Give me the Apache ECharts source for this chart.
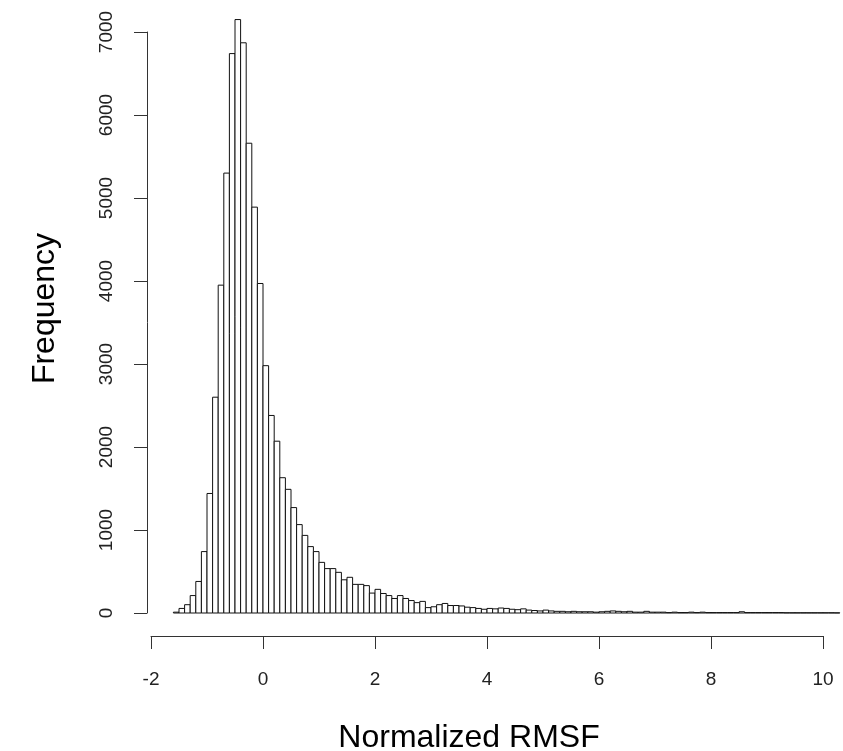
<!DOCTYPE html>
<html>
<head>
<meta charset="utf-8">
<script src="https://cdn.jsdelivr.net/npm/echarts@6/dist/echarts.min.js"></script>
<style>
html,body{margin:0;padding:0;background:#fff;}
#chart{width:843px;height:751px;}
</style>
</head>
<body>
<div id="chart"></div>
<script>
// Histogram of normalized RMSF, bins of width 0.1 starting at -1.6
const binStart = -1.6;
const binWidth = 0.1;
const counts = [
  10, 55, 100, 210, 380, 740, 1440, 2600, 3950, 5300,
  6740, 7150, 6870, 5660, 4890, 3970, 2980, 2380, 2070, 1630,
  1490, 1270, 1065, 935, 800, 740, 610, 535, 535, 490,
  400, 430, 345, 345, 330, 240, 285, 235, 210, 175,
  210, 175, 150, 125, 140, 65, 75, 100, 115, 90,
  90, 85, 70,
  65, 55, 45, 55, 50, 60, 55, 45, 40, 50,
  35, 30, 25, 35, 25, 20, 20, 15, 20, 15,
  15, 15, 10, 15, 20, 25, 20, 15, 20, 10,
  10, 20, 10, 10, 10, 5, 10, 5, 5, 10,
  5, 10, 5, 5, 5, 5, 5, 5, 15, 5,
  5, 5, 5, 5, 5, 5, 3, 3, 3, 3,
  3, 3, 3, 3, 3, 2
];
const xTicks = [-2, 0, 2, 4, 6, 8, 10];
const yTicks = [0, 1000, 2000, 3000, 4000, 5000, 6000, 7000];
const xTitle = 'Normalized RMSF';
const yTitle = 'Frequency';

const bins = counts.map((c, i) => [binStart + i * binWidth, binStart + (i + 1) * binWidth, c]);

const font = "'Liberation Sans', Arial, Helvetica, sans-serif";
const chart = echarts.init(document.getElementById('chart'), null, {renderer: 'canvas'});
chart.setOption({
  animation: false,
  backgroundColor: '#ffffff',
  grid: {left: 151, right: 20, top: 32, bottom: 138, containLabel: false, outerBoundsMode: 'none'},
  xAxis: {
    type: 'value',
    min: xTicks[0],
    max: xTicks[xTicks.length - 1],
    interval: 2,
    offset: 23,
    name: xTitle,
    nameLocation: 'middle',
    nameGap: 86,
    nameTextStyle: {fontFamily: font, fontSize: 32, color: '#000', padding: [0, 36, 0, 0]},
    axisLine: {show: true, onZero: false, lineStyle: {color: '#333', width: 1}},
    axisTick: {show: true, length: 13, lineStyle: {color: '#333', width: 1}},
    axisLabel: {fontFamily: font, fontSize: 19, color: '#222', margin: 34},
    splitLine: {show: false}
  },
  yAxis: {
    type: 'value',
    min: yTicks[0],
    max: yTicks[yTicks.length - 1],
    interval: 1000,
    offset: 4,
    name: yTitle,
    nameLocation: 'middle',
    nameGap: 86,
    nameRotate: 90,
    nameTextStyle: {fontFamily: font, fontSize: 32, color: '#000', padding: [0, 0, 0, 28]},
    axisLine: {show: true, onZero: false, lineStyle: {color: '#333', width: 1}},
    axisTick: {show: true, length: 13, lineStyle: {color: '#333', width: 1}},
    axisLabel: {fontFamily: font, fontSize: 19, color: '#222', margin: 31, rotate: 90,
      formatter: function (v) { return String(v); }},
    splitLine: {show: false}
  },
  series: [{
    type: 'custom',
    clip: false,
    data: bins,
    encode: {x: [0, 1], y: 2},
    renderItem: function (params, api) {
      const p0 = api.coord([api.value(0), 0]);
      const p1 = api.coord([api.value(1), api.value(2)]);
      return {
        type: 'rect',
        shape: {x: p0[0], y: p1[1], width: p1[0] - p0[0], height: p0[1] - p1[1]},
        style: {fill: '#ffffff', stroke: '#111', lineWidth: 1}
      };
    }
  }]
});
</script>
</body>
</html>
